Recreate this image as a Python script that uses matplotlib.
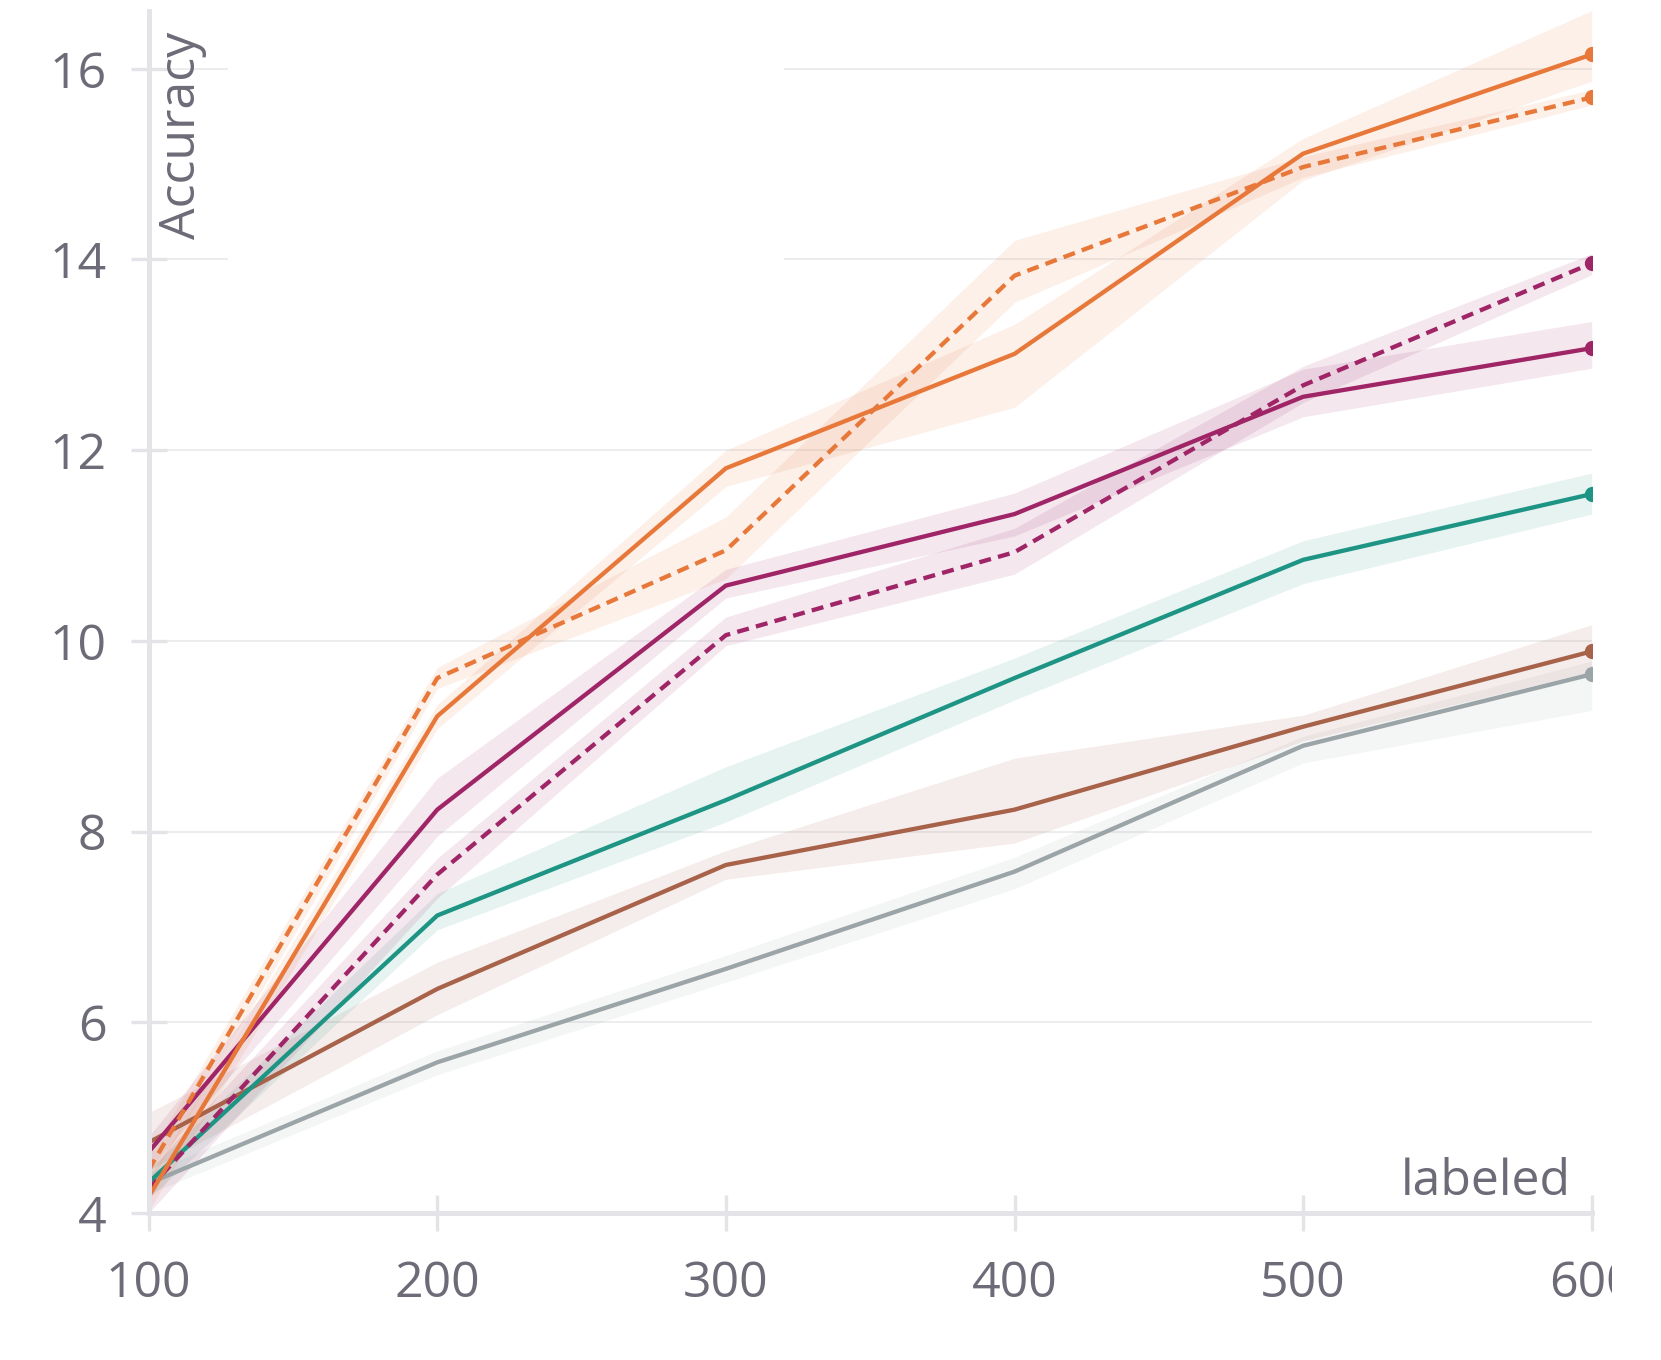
import matplotlib
matplotlib.use("Agg")
from matplotlib import pyplot as plt
from matplotlib.patches import Rectangle

# labeled samples on the x axis
labeled = [100, 200, 300, 400, 500, 600]

# accuracy runs (mean, lower, upper)
orange_solid = [4.17, 9.21, 11.81, 13.01, 15.11, 16.15]
orange_solid_lo = [4.02, 9.08, 11.62, 12.45, 14.83, 15.87]
orange_solid_hi = [4.35, 9.33, 12.00, 13.32, 15.27, 16.61]

orange_dash = [4.45, 9.61, 10.95, 13.83, 14.97, 15.70]
orange_dash_lo = [4.30, 9.50, 10.65, 13.55, 14.86, 15.62]
orange_dash_hi = [4.60, 9.72, 11.30, 14.20, 15.08, 15.78]

purple_solid = [4.64, 8.23, 10.58, 11.33, 12.56, 13.07]
purple_solid_lo = [4.45, 7.95, 10.45, 11.10, 12.35, 12.86]
purple_solid_hi = [4.80, 8.56, 10.75, 11.55, 12.85, 13.35]

purple_dash = [4.25, 7.55, 10.06, 10.93, 12.68, 13.96]
purple_dash_lo = [4.00, 7.30, 9.95, 10.70, 12.50, 13.84]
purple_dash_hi = [4.45, 7.72, 10.25, 11.18, 12.88, 14.06]

teal = [4.32, 7.12, 8.33, 9.61, 10.85, 11.54]
teal_lo = [4.15, 6.97, 8.10, 9.38, 10.60, 11.33]
teal_hi = [4.45, 7.35, 8.68, 9.82, 11.05, 11.76]

brown = [4.74, 6.35, 7.65, 8.23, 9.10, 9.89]
brown_lo = [4.45, 6.08, 7.50, 7.88, 8.95, 9.68]
brown_hi = [5.05, 6.63, 7.80, 8.77, 9.22, 10.17]

gray = [4.31, 5.58, 6.56, 7.58, 8.90, 9.65]
gray_lo = [4.20, 5.45, 6.42, 7.40, 8.72, 9.27]
gray_hi = [4.42, 5.70, 6.70, 7.73, 9.00, 9.79]

yticks = [4, 6, 8, 10, 12, 14, 16]

ORANGE = '#e8783a'
PURPLE = '#9f2567'
TEAL = '#1e9484'
BROWN = '#a8624a'
GRAY = '#9ba4a7'
TEXT = '#6c6b77'
AXIS = '#e4e4e8'

plt.rcParams['font.family'] = ['Open Sans', 'DejaVu Sans']

fig = plt.figure(figsize=(16.61, 13.6), dpi=100)
ax = fig.add_axes([0.0895, 0.1081, 0.8688, 0.8841])

series = [
    (gray, gray_lo, gray_hi, GRAY, '-'),
    (brown, brown_lo, brown_hi, BROWN, '-'),
    (teal, teal_lo, teal_hi, TEAL, '-'),
    (purple_dash, purple_dash_lo, purple_dash_hi, PURPLE, '--'),
    (purple_solid, purple_solid_lo, purple_solid_hi, PURPLE, '-'),
    (orange_dash, orange_dash_lo, orange_dash_hi, ORANGE, '--'),
    (orange_solid, orange_solid_lo, orange_solid_hi, ORANGE, '-'),
]

for y, lo, hi, col, ls in series:
    ax.fill_between(labeled, lo, hi, color=col, alpha=0.11, linewidth=0, zorder=1)
    line, = ax.plot(labeled, y, color=col, linewidth=3.1, linestyle=ls, zorder=2)
    if ls == '--':
        line.set_dashes((2.8, 1.7))
    ax.plot(labeled[-1:], y[-1:], 'o', color=col, markersize=10, zorder=3)

# blank patch where gridlines are hidden at the top
ax.add_patch(Rectangle((0.055, 0.676), 0.385, 0.33, transform=ax.transAxes,
                       facecolor='white', edgecolor='none', zorder=0.8))

ax.set_xlim(100, 600)
ax.set_ylim(4, 16.61)
ax.set_xticks(labeled)
ax.set_yticks(yticks)
ax.yaxis.grid(True, color='#e8e8ea', linewidth=1.1)
ax.set_axisbelow(True)

for s in ['top', 'right']:
    ax.spines[s].set_visible(False)
for s in ['left', 'bottom']:
    ax.spines[s].set_color(AXIS)
    ax.spines[s].set_linewidth(3.6)

ax.tick_params(axis='both', direction='inout', length=26.6, width=2.4,
               color=AXIS, labelcolor=TEXT, labelsize=36)
ax.tick_params(axis='x', pad=20)
ax.tick_params(axis='y', pad=17)

ax.text(0.023, 0.982, 'Accuracy', transform=ax.transAxes, rotation=90,
        ha='center', va='top', fontsize=36, color=TEXT)
ax.text(0.9857, 0.015, 'labeled', transform=ax.transAxes,
        ha='right', va='baseline', fontsize=36, color=TEXT)

# right edge of the original image is cropped
fig.patches.append(Rectangle((1612 / 1661, 0), 1, 1, transform=fig.transFigure,
                             facecolor='white', edgecolor='none', zorder=10))

fig.savefig('out.png', dpi=100, facecolor='white')
